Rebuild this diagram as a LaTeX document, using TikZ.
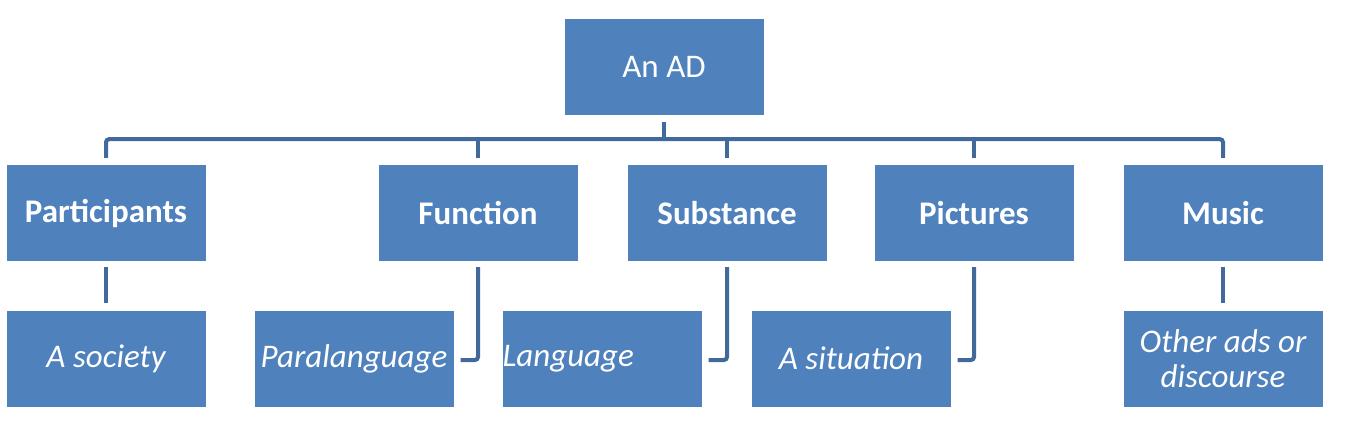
\documentclass[tikz,border=0pt]{standalone}
\usepackage{fontspec}
\setmainfont{Carlito}
\usetikzlibrary{calc}
\definecolor{boxblue}{HTML}{4F81BD}
\definecolor{linkblue}{HTML}{41699C}
\tikzset{
  box/.style={rectangle, fill=boxblue, draw=none, minimum width=199pt, minimum height=96pt,
    inner sep=0pt, text=white, font=\fontsize{33}{35}\selectfont, align=center},
  lvltwo/.style={box, font=\fontsize{33}{35}\selectfont\bfseries},
  lvlthree/.style={box, font=\fontsize{33}{35}\selectfont\itshape},
  conn/.style={draw=linkblue, line width=4pt, rounded corners=3pt},
}
\begin{document}
\begin{tikzpicture}[x=1pt,y=-1pt]
\useasboundingbox (0,0) rectangle (1351,429);
\node[box] (top) at (664,67) {An AD};
\node[lvltwo] (part) at (106,213) {Participants};
\node[lvltwo] (func) at (478,213) {Function};
\node[lvltwo] (subs) at (727,213) {Substance};
\node[lvltwo] (pict) at (974,213) {Pictures};
\node[lvltwo] (music) at (1223,213) {Music};
\node[lvlthree] (soc) at (106,358.5) {A society};
\node[lvlthree] (para) at (354,358.5) {Paralanguage};
\node[lvlthree, text width=199pt, align=left] (lang) at (602,358.5) {Language};
\node[lvlthree] (sit) at (851,358.5) {A situation};
\node[lvlthree] (other) at (1223,358.5) {Other ads or\\discourse};
% bus
\draw[conn] ([yshift=7pt]part.north) |- ([yshift=-24pt]top.south) -| ([yshift=7pt]music.north);
\draw[conn] ([yshift=-7pt]top.south) -- ([yshift=-24pt]top.south);
\draw[conn] ([yshift=7pt]func.north) -- ([yshift=26pt]func.north);
\draw[conn] ([yshift=7pt]subs.north) -- ([yshift=26pt]subs.north);
\draw[conn] ([yshift=7pt]pict.north) -- ([yshift=26pt]pict.north);
% children
\draw[conn] ([yshift=-6pt]part.south) -- ([yshift=7pt]soc.north);
\draw[conn] ([yshift=-6pt]music.south) -- ([yshift=7pt]other.north);
\draw[conn] ([yshift=-6pt]func.south) |- ([xshift=7pt,yshift=-1.5pt]para.east);
\draw[conn] ([yshift=-6pt]subs.south) |- ([xshift=7pt,yshift=-1.5pt]lang.east);
\draw[conn] ([yshift=-6pt]pict.south) |- ([xshift=7pt,yshift=-1.5pt]sit.east);
\end{tikzpicture}
\end{document}
